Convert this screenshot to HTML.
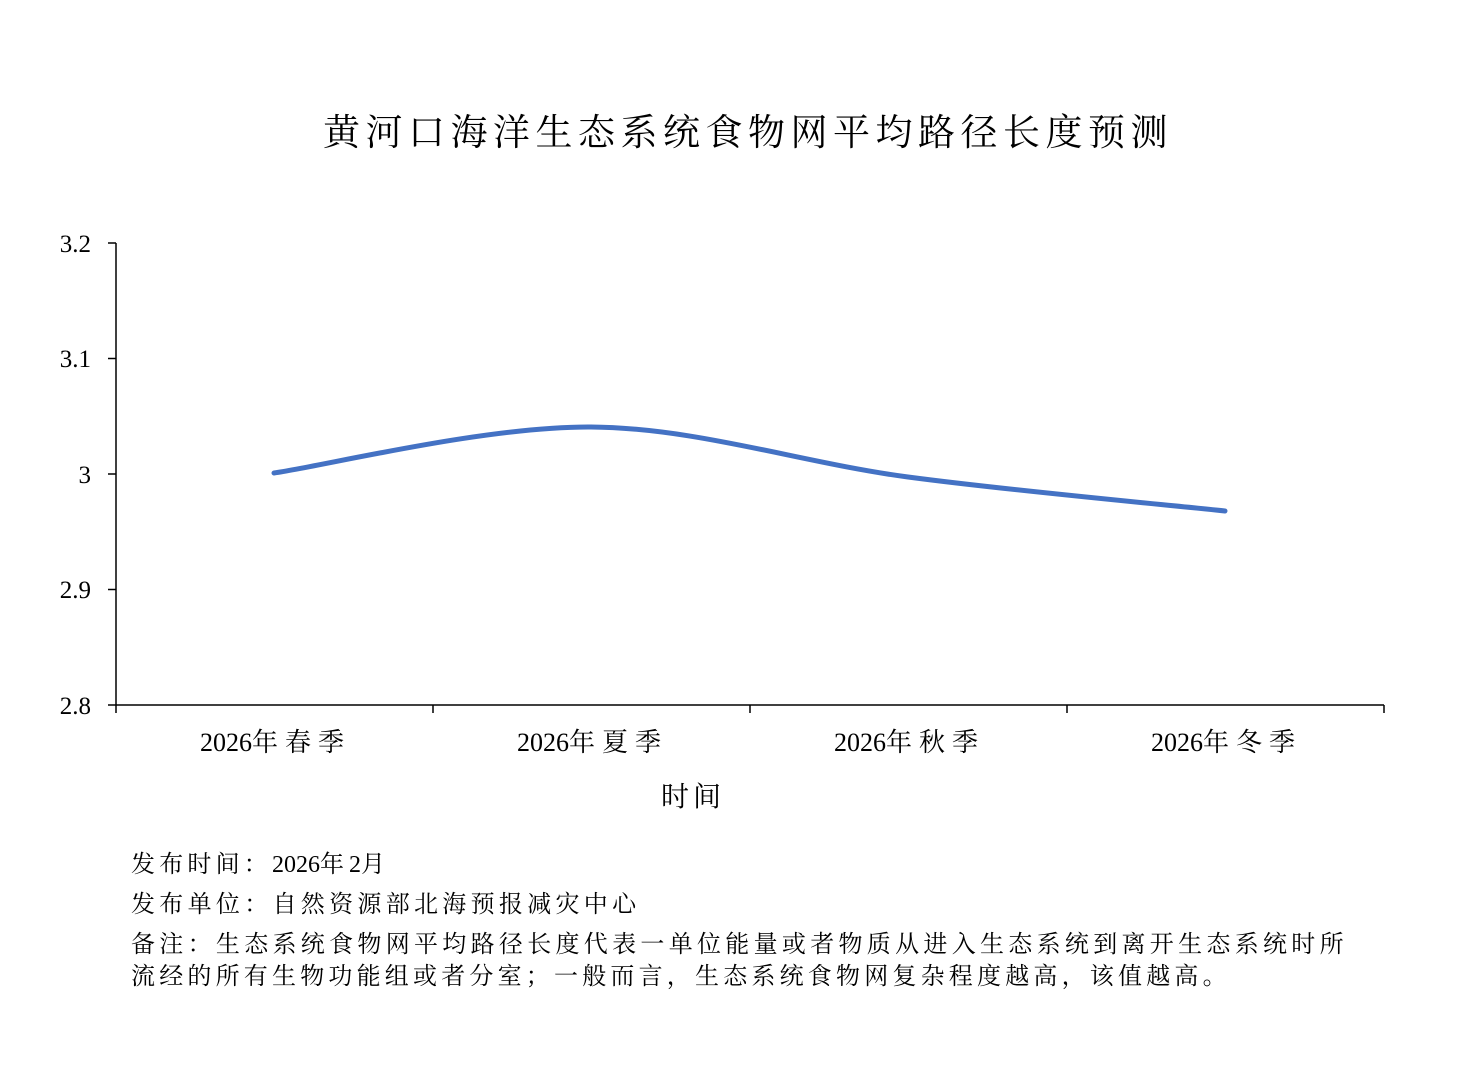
<!DOCTYPE html>
<html><head><meta charset="utf-8">
<style>
html,body{margin:0;padding:0;background:#fff;}
body{width:1470px;height:1065px;overflow:hidden;}
svg text{font-family:"Liberation Serif","Noto Serif CJK SC",serif;fill:#000;}
</style></head>
<body>
<svg width="1470" height="1065" viewBox="0 0 1470 1065" xmlns="http://www.w3.org/2000/svg">
<text x="748" y="145" font-size="37" text-anchor="middle" letter-spacing="5.5">黄河口海洋生态系统食物网平均路径长度预测</text>
<g stroke="#000" stroke-width="1.5" fill="none">
<line x1="116" y1="243" x2="116" y2="705"/>
<line x1="116" y1="705" x2="1384" y2="705"/>
<line x1="108" y1="243" x2="116" y2="243"/>
<line x1="108" y1="358.5" x2="116" y2="358.5"/>
<line x1="108" y1="474" x2="116" y2="474"/>
<line x1="108" y1="589.5" x2="116" y2="589.5"/>
<line x1="108" y1="705" x2="116" y2="705"/>
<line x1="116" y1="705" x2="116" y2="713"/>
<line x1="433" y1="705" x2="433" y2="713"/>
<line x1="750" y1="705" x2="750" y2="713"/>
<line x1="1067" y1="705" x2="1067" y2="713"/>
<line x1="1384" y1="705" x2="1384" y2="713"/>
</g>
<g font-size="25" text-anchor="end">
<text x="91" y="252">3.2</text>
<text x="91" y="367">3.1</text>
<text x="91" y="483">3</text>
<text x="91" y="598">2.9</text>
<text x="91" y="714">2.8</text>
</g>
<g font-size="26">
<text x="200" y="751">2026<tspan letter-spacing="7">年春季</tspan></text>
<text x="517" y="751">2026<tspan letter-spacing="7">年夏季</tspan></text>
<text x="834" y="751">2026<tspan letter-spacing="7">年秋季</tspan></text>
<text x="1151" y="751">2026<tspan letter-spacing="7">年冬季</tspan></text>
<text x="661" y="806" font-size="28" letter-spacing="4">时间</text>
</g>
<path d="M274,473 C327,465.3 485.3,426.3 591,427 C696.7,427.7 802.3,463 908,477 C1013.7,491 1172.2,505.3 1225,511" stroke="#4472C4" stroke-width="5" fill="none" stroke-linecap="round"/>
<g font-size="24">
<text x="131" y="872"><tspan letter-spacing="4.2">发布时间：</tspan>2026<tspan letter-spacing="5">年</tspan>2<tspan letter-spacing="3">月</tspan></text>
<text x="131" y="912" letter-spacing="4.3">发布单位：自然资源部北海预报减灾中心</text>
<text x="131" y="952" letter-spacing="4.3">备注：生态系统食物网平均路径长度代表一单位能量或者物质从进入生态系统到离开生态系统时所</text>
<text x="131" y="984" letter-spacing="4.2">流经的所有生物功能组或者分室；一般而言，生态系统食物网复杂程度越高，该值越高。</text>
</g>
</svg>
</body></html>
